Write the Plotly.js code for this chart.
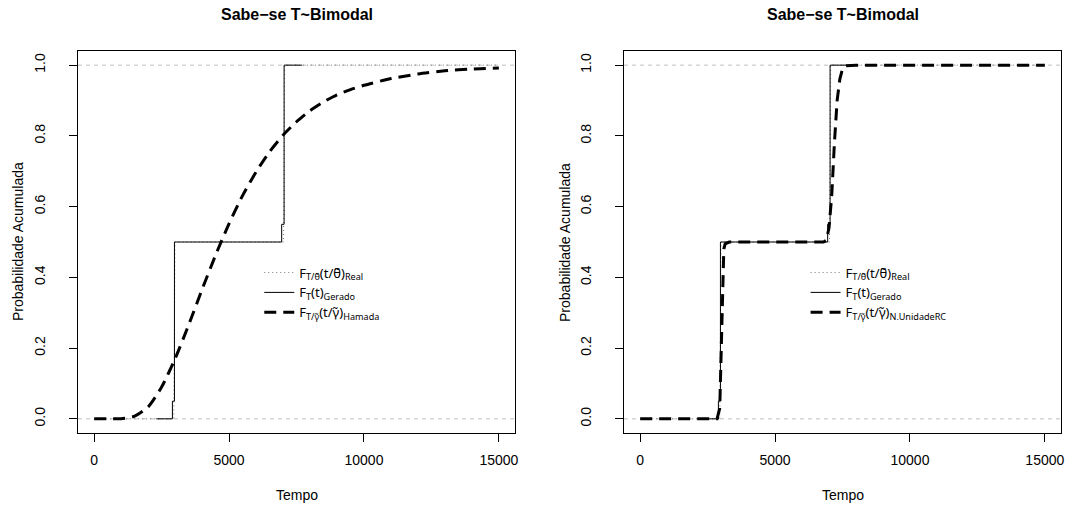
<!DOCTYPE html>
<html>
<head>
<meta charset="utf-8">
<script src="https://cdn.plot.ly/plotly-3.0.1.min.js"></script>
<style>html,body{margin:0;padding:0;background:#fff}#chart{width:1067px;height:510px}</style>
</head>
<body>
<div id="chart"></div>
<script>
// ---- data ----
var chartTitle = "Sabe\u2212se T~Bimodal";
var xTickVals = [0, 5000, 10000, 15000];
var yTickVals = [0, 0.2, 0.4, 0.6, 0.8, 1.0];

// Real (theoretical) bimodal CDF
var realT = [0, 2950, 2965, 2980, 2995, 7020, 7032, 7045, 7060, 15000];
var realF = [0, 0, 0.15, 0.4, 0.5, 0.5, 0.65, 0.9, 1, 1];

// Generated (empirical) CDF, step points
var geradoT = [2300, 2900, 2975, 6950, 7040, 7700];
var geradoF = [0, 0.05, 0.5, 0.55, 1.0, 1.0];

// Hamada estimate (left panel)
var hamadaT = [0, 500, 1000, 1500, 2000, 2500, 3000, 3500, 4000, 4500, 5000, 5500, 6000, 6500, 7000, 7500, 8000, 8500, 9000, 9500, 10000, 11000, 12000, 13000, 14000, 15000];
var hamadaF = [0, 0, 0.0005, 0.0075, 0.034, 0.09, 0.17, 0.265, 0.366, 0.463, 0.552, 0.631, 0.698, 0.755, 0.802, 0.84, 0.871, 0.896, 0.916, 0.931, 0.943, 0.962, 0.975, 0.984, 0.989, 0.992];

// N.UnidadeRC estimate (right panel)
var unidT = [0, 2850, 2950, 3000, 3050, 3100, 3150, 3300, 6800, 6900, 7000, 7100, 7200, 7300, 7400, 7500, 7600, 8000, 15000];
var unidF = [0, 0, 0.03, 0.2, 0.4, 0.48, 0.495, 0.5, 0.5, 0.505, 0.54, 0.63, 0.78, 0.9, 0.96, 0.99, 0.998, 1, 1];

var refLevels = [0, 1];

// ---- labels ----
var lblReal = "F<sub>T/\u03B8\u0303</sub>(t/\u03B8\u0303)<sub>Real</sub>";
var lblGerado = "F<sub>T</sub>(t)<sub>Gerado</sub>";
var lblHamada = "F<sub>T/\u03B3\u0303</sub>(t/\u03B3\u0303)<sub>Hamada</sub>";
var lblUnid = "F<sub>T/\u03B3\u0303</sub>(t/\u03B3\u0303)<sub>N.UnidadeRC</sub>";

var FONT = "Liberation Sans, Arial, Helvetica, sans-serif";
var LEGFONT = "Noto Sans, DejaVu Sans, sans-serif";

function panelTraces(xa, ya, leg, estT, estF, estLbl, estShape) {
  return [
    {x: realT, y: realF, xaxis: xa, yaxis: ya, type: 'scatter', mode: 'lines', name: lblReal,
     line: {color: '#777', width: 1, dash: '1px,3px'}, legend: leg, legendrank: 1},
    {x: geradoT, y: geradoF, xaxis: xa, yaxis: ya, type: 'scatter', mode: 'lines', name: lblGerado,
     line: {color: '#000', width: 1, shape: 'hv'}, legend: leg, legendrank: 2},
    {x: estT, y: estF, xaxis: xa, yaxis: ya, type: 'scatter', mode: 'lines', name: estLbl,
     line: {color: '#000', width: 3, dash: '12px,7px', shape: estShape, smoothing: 0.6}, legend: leg, legendrank: 3}
  ];
}

var data = [].concat(
  panelTraces('x', 'y', 'legend', hamadaT, hamadaF, lblHamada, 'spline'),
  panelTraces('x2', 'y2', 'legend2', unidT, unidF, lblUnid, 'linear')
);

function xAxis(domain, anchor) {
  return {domain: domain, anchor: anchor, range: [-600, 15600], tickvals: xTickVals, ticktext: xTickVals.map(String),
    showgrid: false, zeroline: false, showline: true, mirror: true, linecolor: '#000', linewidth: 1,
    ticks: 'outside', ticklen: 8, tickcolor: '#000', tickwidth: 1, ticklabelstandoff: 6,
    tickfont: {family: FONT, size: 14, color: '#000'}};
}
function yAxis(anchor) {
  return {domain: [0.151, 0.9], anchor: anchor, range: [-0.04, 1.04], tickvals: yTickVals,
    ticktext: yTickVals.map(function(v){return v.toFixed(1);}), tickangle: -90,
    showgrid: false, zeroline: false, showline: true, mirror: true, linecolor: '#000', linewidth: 1,
    ticks: 'outside', ticklen: 8, tickcolor: '#000', tickwidth: 1, ticklabelstandoff: 18,
    tickfont: {family: FONT, size: 14, color: '#000'}};
}

var shapes = [];
[['x', 'y'], ['x2', 'y2']].forEach(function(p){
  refLevels.forEach(function(v){
    shapes.push({type: 'line', xref: p[0] + ' domain', yref: p[1], x0: 0, x1: 1, y0: v, y1: v,
      line: {color: '#bebebe', width: 1, dash: '4px,4px'}, layer: 'below'});
  });
});

var legendBase = {bgcolor: 'rgba(0,0,0,0)', borderwidth: 0, font: {family: LEGFONT, size: 13, color: '#000'},
  xanchor: 'left', yanchor: 'top', itemwidth: 30, tracegroupgap: 0};

function ann(text, x, y, size, extra) {
  return Object.assign({text: text, xref: 'paper', yref: 'paper', x: x, y: y, xanchor: 'center', yanchor: 'middle',
    showarrow: false, font: {family: FONT, size: size, color: '#000'}}, extra || {});
}

var layout = {
  width: 1067, height: 510,
  margin: {l: 0, r: 0, t: 0, b: 0},
  paper_bgcolor: '#fff', plot_bgcolor: '#fff',
  font: {family: FONT, color: '#000'},
  xaxis: xAxis([0.0731, 0.4827], 'y'),
  yaxis: yAxis('x'),
  xaxis2: xAxis([0.5848, 0.9944], 'y2'),
  yaxis2: yAxis('x2'),
  legend: Object.assign({}, legendBase, {x: 0.243, y: 0.495}),
  legend2: Object.assign({}, legendBase, {x: 0.755, y: 0.495}),
  shapes: shapes,
  annotations: [
    ann('<b>' + chartTitle + '</b>', 0.2779, 0.9706, 16),
    ann('<b>' + chartTitle + '</b>', 0.7896, 0.9706, 16),
    ann('Tempo', 0.2779, 0.0294, 14),
    ann('Tempo', 0.7896, 0.0294, 14),
    ann('Probabilidade Acumulada', 0.0169, 0.5255, 14, {textangle: -90}),
    ann('Probabilidade Acumulada', 0.5295, 0.5255, 14, {textangle: -90})
  ],
  showlegend: true
};

Plotly.newPlot('chart', data, layout, {displayModeBar: false, staticPlot: true});
</script>
</body>
</html>
